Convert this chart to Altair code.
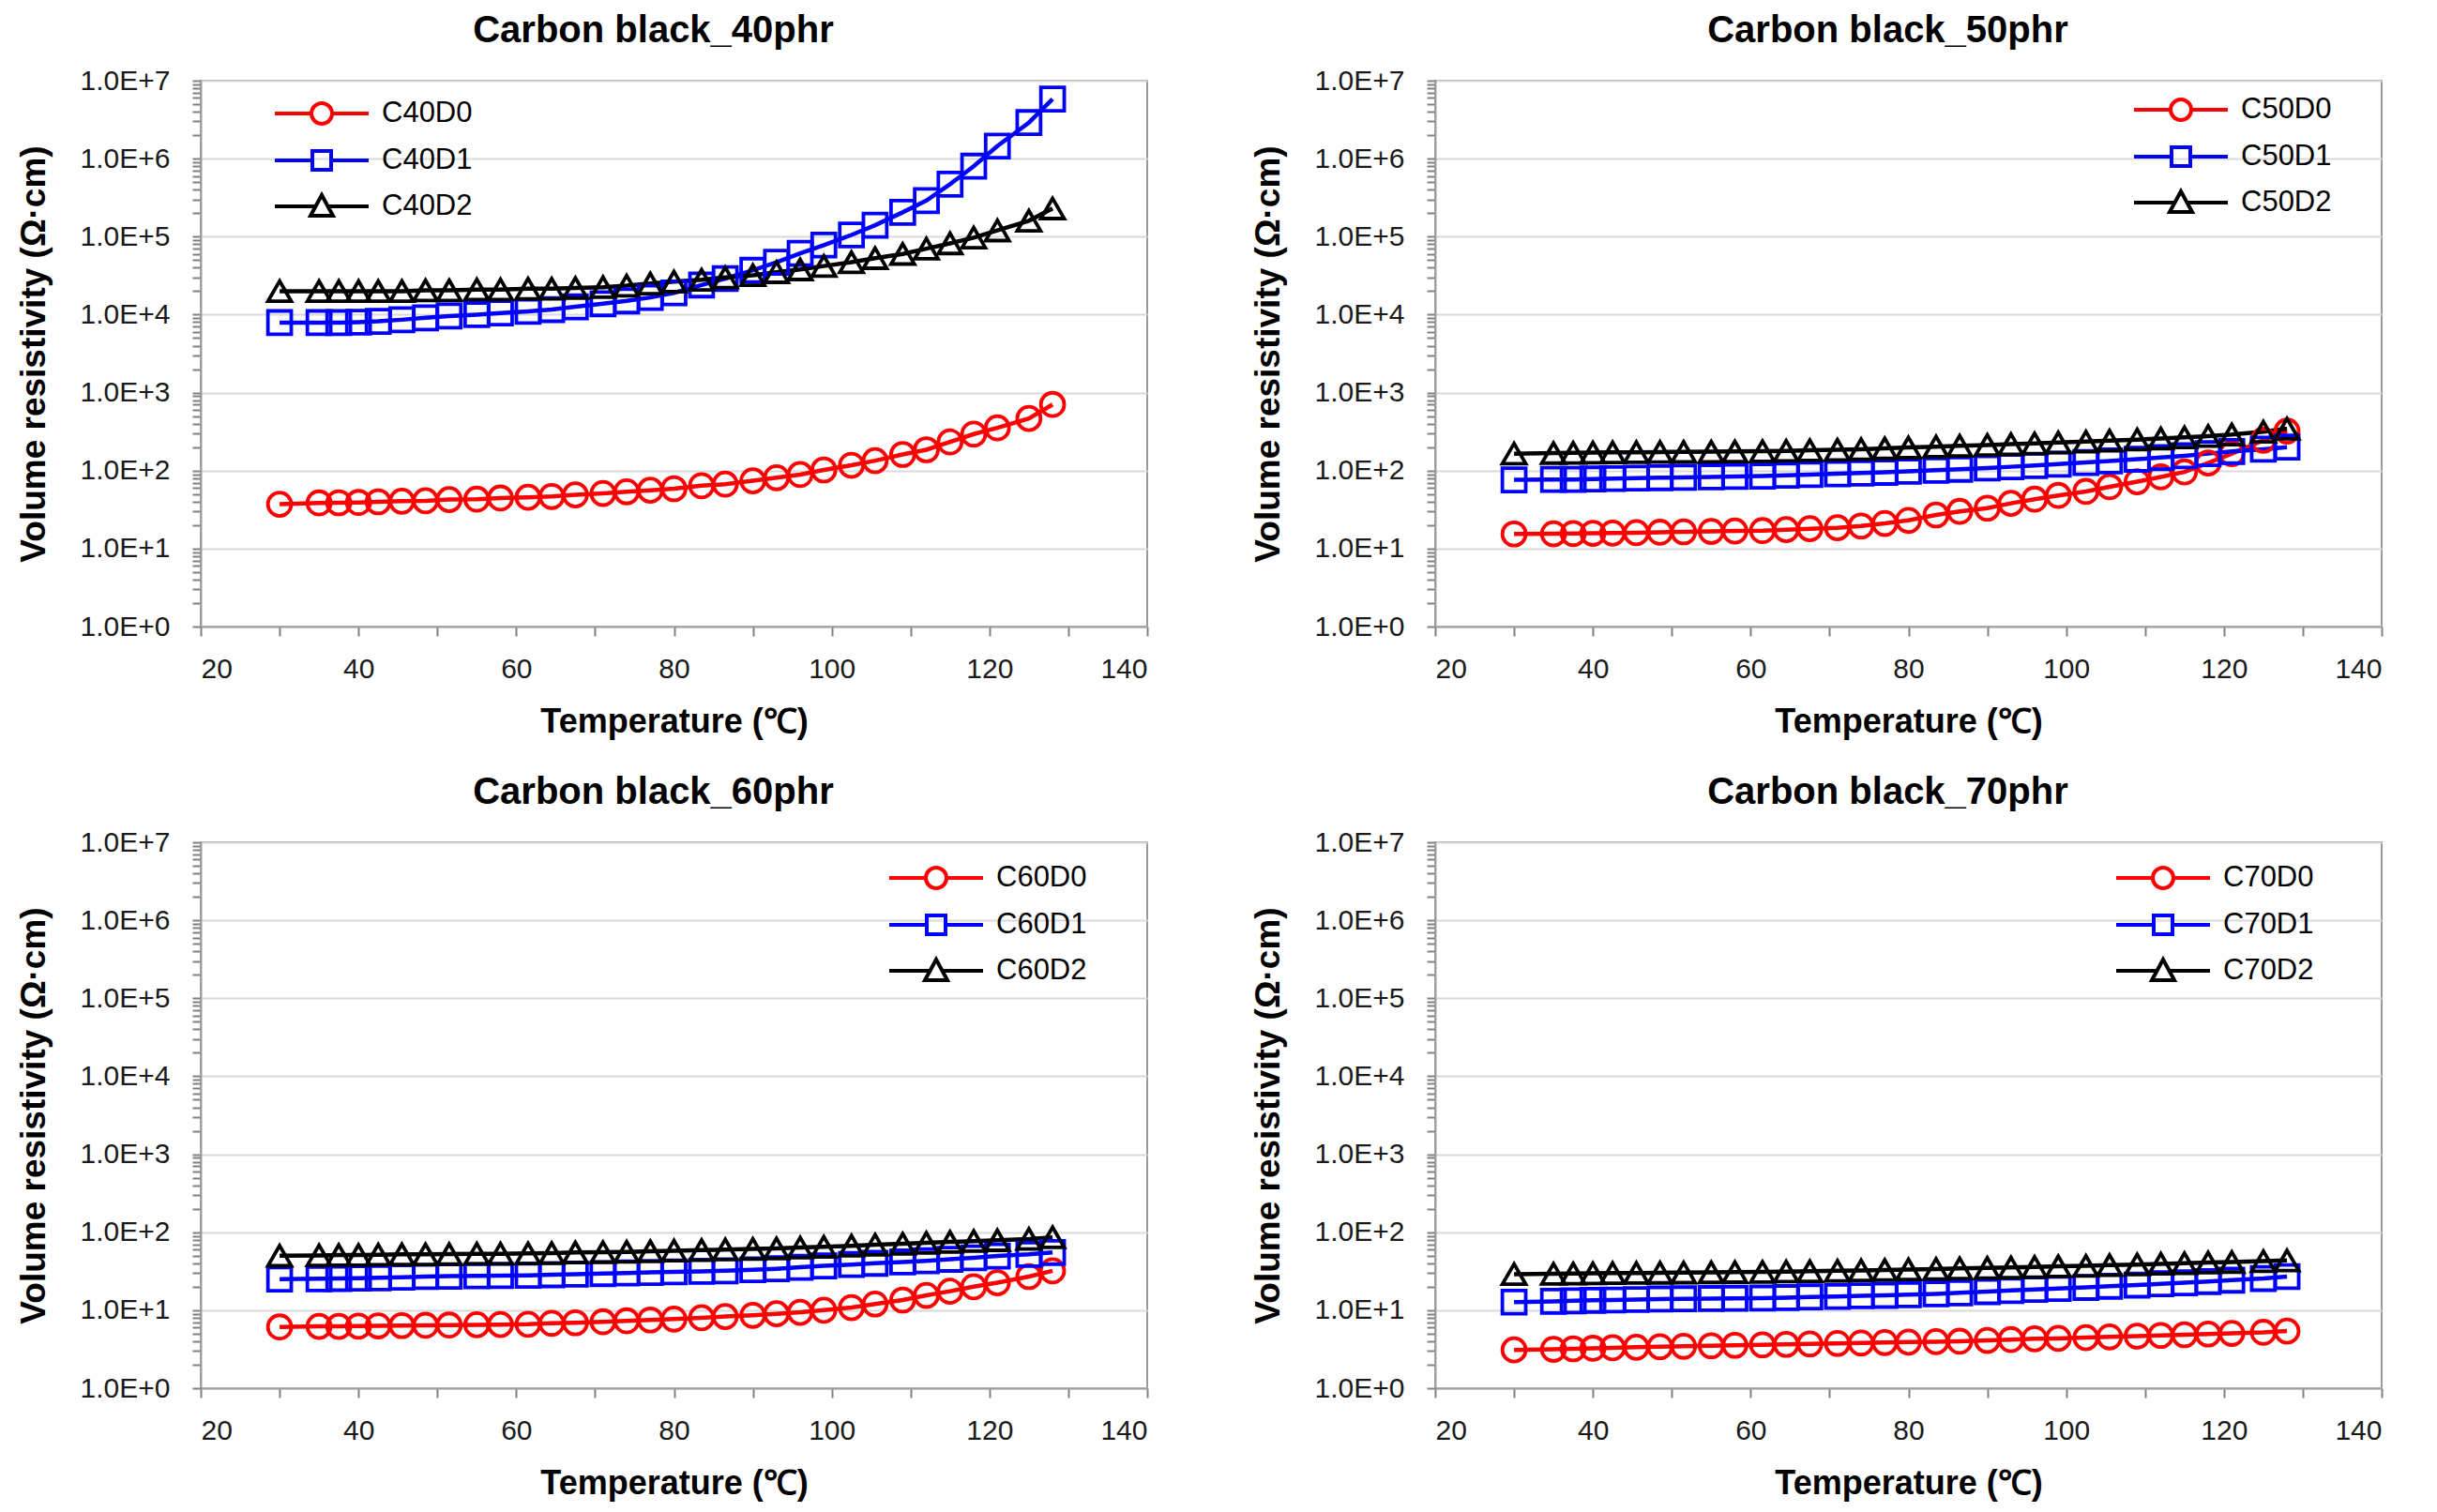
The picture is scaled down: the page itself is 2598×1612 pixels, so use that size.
import altair as alt
import pandas as pd

# ---------------- data ----------------
temps = [30, 35, 37.5, 40, 42.5, 45.5, 48.5, 51.5, 55, 58, 61.5, 64.5, 67.5, 71, 74, 77,
         80, 83.5, 86.5, 90, 93, 96, 99, 102.5, 105.5, 109, 112, 115, 118, 121, 125, 128]

panel_titles = ["Carbon black_40phr", "Carbon black_50phr",
                "Carbon black_60phr", "Carbon black_70phr"]

names_40 = ["C40D0", "C40D1", "C40D2"]
names_50 = ["C50D0", "C50D1", "C50D2"]
names_60 = ["C60D0", "C60D1", "C60D2"]
names_70 = ["C70D0", "C70D1", "C70D2"]

c40d0 = [37, 38.5, 38.7, 39, 39.8, 40.5, 41, 42.5, 43, 44.5, 45.5, 46.6, 48.8, 51, 53.5, 56,
         58.6, 64, 67, 74, 81, 89, 102, 117, 134, 161, 185, 233, 294, 353, 466, 705]
c40d1 = [7900, 7900, 7900, 8000, 8200, 8600, 9100, 9600, 10000, 10500, 11000, 11600, 12600,
         13800, 15000, 16600, 19000, 24000, 29000, 37000, 47000, 61000, 78000, 105000,
         140000, 205000, 290000, 470000, 800000, 1450000, 2900000, 5800000]
c40d2 = [20000, 20000, 20000, 20000, 20000, 20000, 20500, 20500, 21000, 21000, 21500, 21500,
         22000, 22500, 23500, 25000, 26500, 28000, 30000, 32000, 35000, 38000, 42000, 47000,
         53000, 60000, 70000, 82000, 97000, 120000, 160000, 230000]

c50d0 = [15.4, 15.5, 15.6, 15.7, 15.8, 16, 16.2, 16.4, 16.6, 16.8, 17, 17.5, 18, 18.5, 19.5, 21,
         23, 27, 30, 33, 38, 43, 48, 54, 62, 72, 83, 96, 125, 165, 245, 320]
c50d1 = [76, 77, 77, 78, 79, 80, 81, 82, 83, 84, 85, 87, 89, 91, 93, 95, 98, 101, 104, 108,
         112, 116, 121, 127, 133, 140, 147, 155, 165, 176, 188, 200]
c50d2 = [165, 168, 169, 170, 171, 172, 173, 174, 175, 176, 177, 179, 182, 185, 188, 193, 198,
         203, 208, 213, 218, 223, 229, 235, 242, 250, 258, 267, 277, 290, 315, 345]

c60d0 = [6.1, 6.2, 6.2, 6.25, 6.3, 6.35, 6.4, 6.45, 6.5, 6.55, 6.6, 6.8, 6.9, 7.1, 7.3, 7.5,
         7.7, 8.0, 8.3, 8.6, 9.0, 9.4, 10, 10.8, 12, 13.5, 15.5, 17.5, 20, 22.5, 27, 32]
c60d1 = [25, 25.3, 25.5, 25.8, 26, 26.5, 27, 27.3, 27.6, 27.8, 28, 28.5, 29, 29.5, 30, 30.5,
         31, 31.5, 32, 33, 34, 35.5, 37, 38.5, 40, 41.5, 43, 45, 47, 49.5, 52, 55]
c60d2 = [50, 50.5, 51, 51, 51.5, 52, 52, 52.5, 53, 53, 53.5, 54, 55, 55.5, 56, 57, 58, 59, 60,
         61, 62, 63.5, 65, 67, 69, 71, 73, 75, 77, 79, 82, 86]

c70d0 = [3.1, 3.15, 3.2, 3.25, 3.3, 3.35, 3.4, 3.45, 3.5, 3.55, 3.6, 3.65, 3.7, 3.75, 3.8, 3.85,
         3.9, 3.95, 4.0, 4.1, 4.2, 4.3, 4.35, 4.45, 4.55, 4.65, 4.75, 4.85, 4.95, 5.05, 5.2, 5.4]
c70d1 = [12.7, 13, 13.2, 13.4, 13.5, 13.7, 13.9, 14.0, 14.1, 14.2, 14.3, 14.5, 14.8, 15, 15.3,
         15.5, 15.8, 16.2, 16.7, 17.3, 17.9, 18.5, 19, 19.6, 20.3, 21, 21.8, 22.5, 23.3, 24.3,
         25.5, 27]
c70d2 = [29, 29.3, 29.5, 29.7, 29.9, 30, 30.2, 30.4, 30.6, 30.8, 31, 31.3, 31.6, 32, 32.4, 32.8,
         33.3, 33.8, 34.3, 34.8, 35.3, 35.8, 36.5, 37, 37.8, 38.5, 39.3, 40, 40.8, 41.5, 42.5, 43.5]

x_ticks = list(range(20, 141, 10))
y_ticks = [k * 10 ** d for d in range(7) for k in range(1, 10)] + [10 ** 7]

# ---------------- style ----------------
COLORS = ["#FF0000", "#0000FF", "#000000"]
SHAPES = ["circle", "square", "triangle-up"]
LEGEND_PATHS = [
    "M-2.5,0H-0.55M0.55,0H2.5M-0.55,0A0.55,0.55 0 1 0 0.55,0A0.55,0.55 0 1 0 -0.55,0Z",
    "M-2.5,0H-0.5M0.5,0H2.5M-0.5,-0.5H0.5V0.5H-0.5Z",
    "M-2.5,0H-0.33M0.33,0H2.5M0,-0.6L0.6,0.5H-0.6Z",
]
FONT = "Liberation Sans"
W, H = 1009, 582

IS_DECADE = "abs(round(log(datum.value)/LN10) - log(datum.value)/LN10) < 0.000001"


def panel(title, names, series, legend_x, legend_y):
    rows = []
    for name, vals in zip(names, series):
        for t, v in zip(temps, vals):
            rows.append({"T": t, "R": v, "series": name})
    df = pd.DataFrame(rows)

    x_enc = alt.X("T:Q", scale=alt.Scale(domain=[20, 140], nice=False),
                  axis=alt.Axis(values=x_ticks, title="Temperature (℃)",
                                labelExpr="datum.value % 20 == 0 ? datum.label : ''",
                                grid=False, tickSize=10, labelPadding=20,
                                titlePadding=24))
    y_enc = alt.Y("R:Q", scale=alt.Scale(type="log", domain=[1, 1e7], nice=False),
                  axis=alt.Axis(values=y_ticks, title="Volume resistivity (Ω·cm)",
                                labelExpr=f"({IS_DECADE}) ? '1.0E+' + round(log(datum.value)/LN10) : ''",
                                gridOpacity={"condition": {"test": IS_DECADE, "value": 1}, "value": 0},
                                tickSize=9, labelPadding=24, titlePadding=30))

    base = alt.Chart(df).encode(x=x_enc, y=y_enc)
    layers = []
    for i, name in enumerate(names):
        layers.append(base.transform_filter(alt.datum.series == name)
                      .mark_line(color=COLORS[i], strokeWidth=4.5))
    for i, name in enumerate(names):
        layers.append(base.transform_filter(alt.datum.series == name)
                      .mark_point(shape=SHAPES[i], color=COLORS[i], filled=False,
                                  size=620, strokeWidth=3.8, opacity=1))
    legend = alt.Legend(title=None, orient="none", legendX=legend_x, legendY=legend_y,
                        labelFont=FONT, labelFontSize=31, labelColor="#000000",
                        symbolSize=1600, symbolStrokeWidth=4, labelOffset=42,
                        rowPadding=9, padding=0, symbolFillColor="white")
    layers.append(
        base.transform_filter("false")
        .mark_point(filled=False, opacity=1, strokeWidth=4)
        .encode(color=alt.Color("series:N", scale=alt.Scale(domain=names, range=COLORS),
                                legend=legend),
                shape=alt.Shape("series:N", scale=alt.Scale(domain=names, range=LEGEND_PATHS),
                                legend=legend))
    )
    return alt.layer(*layers).properties(
        width=W, height=H,
        title=alt.TitleParams(title, dx=-22, offset=18, frame="group"),
    )


def indep(c):
    return c.resolve_scale(color="independent", shape="independent").resolve_legend(
        color="independent", shape="independent")


p1 = panel(panel_titles[0], names_40, [c40d0, c40d1, c40d2], 107, 13)
p2 = panel(panel_titles[1], names_50, [c50d0, c50d1, c50d2], 773, 9)
p3 = panel(panel_titles[2], names_60, [c60d0, c60d1, c60d2], 762, 16)
p4 = panel(panel_titles[3], names_70, [c70d0, c70d1, c70d2], 754, 16)

row1 = indep(alt.hconcat(p1, p2, spacing=107))
row2 = indep(alt.hconcat(p3, p4, spacing=107))

chart = indep(alt.vconcat(row1, row2, spacing=36)).properties(
    padding={"left": 8, "top": 4, "right": 5, "bottom": 5},
    background="white",
).configure_view(
    stroke="#9a9a9a", strokeWidth=2
).configure_axis(
    labelFont=FONT, labelFontSize=30, labelColor="#1a1a1a",
    titleFont=FONT, titleFontWeight="bold", titleColor="#000000",
    domainColor="#a0a0a0", domainWidth=2, tickColor="#808080", tickWidth=2,
    gridColor="#d9d9d9", gridWidth=2,
).configure_axisX(
    titleFontSize=36
).configure_axisY(
    titleFontSize=37
).configure_title(
    font=FONT, fontSize=40, fontWeight="bold", color="#000000", anchor="middle"
).configure_legend(
    labelLimit=400
)

chart.save("out.html", embed_options={"renderer": "svg", "actions": False})
